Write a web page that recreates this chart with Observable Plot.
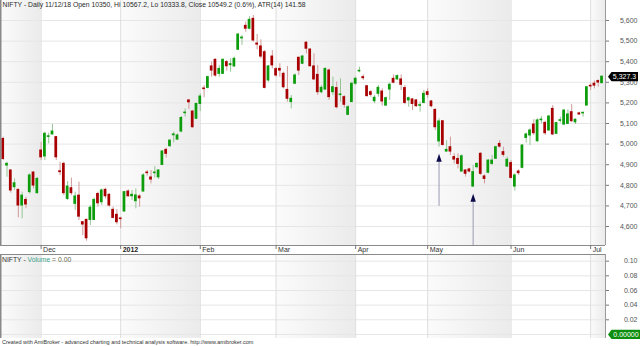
<!DOCTYPE html>
<html><head><meta charset="utf-8">
<script src="https://cdn.jsdelivr.net/npm/d3@7"></script>
<script src="https://cdn.jsdelivr.net/npm/@observablehq/plot@0.6"></script>
<style>
body{margin:0;background:#fff;}
#wrap{width:640px;height:346px;overflow:hidden;font-family:"Liberation Sans",Arial,sans-serif;}
#wrap svg{display:block;}
#footer{height:8px;font-size:5.5px;color:#333;line-height:8px;padding-left:2px;white-space:nowrap;}
</style></head><body><div id="wrap"></div>
<script>
const opens = [5025,4896,4872,4791,4778,4702,4729,4767,4862,4762,
 4969,4940,5035,5047,5034,4868,4904,4734,4786,4710,
 4750,4621,4632,4632,4632,4758,4718,4778,4754,4681,
 4657,4639,4673,4770,4747,4723,4746,4770,4862,4838,
 4859,4839,4899,4972,4990,5043,5022,5061,5150,5212,
 5158,5123,5195,5270,5273,5377,5409,5341,5341,5398,
 5383,5377,5458,5513,5574,5560,5608,5488,5474,5446,
 5309,5425,5364,5365,5341,5263,5204,5293,5419,5390,
 5492,5459,5377,5336,5252,5265,5357,5252,5272,5238,
 5228,5142,5204,5293,5353,5325,5281,5252,5208,5244,
 5255,5187,5265,5317,5314,5314,5272,5212,5217,5212,
 5186,5200,5252,5207,5166,5013,5111,4964,4985,4937,
 4928,4867,4872,4877,4794,4888,4953,4843,4861,4904,
 4929,5001,4961,4891,4908,4794,4867,4885,5030,5042,
 5095,5014,5116,5103,5066,5171,5050,5113,5095,5098,
 5155,5106,5149,5149,5187,5283,5293,5306,5296];
const highs = [5034,4912,4875,4831,4781,4767,4742,4856,4867,4839,
 5009,5058,5053,5095,5037,4912,4912,4818,4835,4767,
 4815,4624,4637,4702,4739,4767,4783,4786,4759,4694,
 4683,4645,4770,4778,4775,4783,4754,4856,4872,4872,
 4891,4875,4969,4980,5021,5058,5050,5134,5171,5215,
 5163,5199,5244,5284,5330,5398,5414,5382,5414,5406,
 5414,5422,5535,5527,5592,5619,5624,5532,5506,5454,
 5382,5454,5373,5390,5349,5377,5236,5341,5422,5430,
 5498,5462,5438,5382,5285,5369,5365,5325,5301,5317,
 5236,5187,5301,5325,5374,5336,5285,5260,5236,5285,
 5268,5228,5297,5336,5336,5336,5284,5228,5220,5217,
 5204,5260,5268,5212,5171,5123,5115,5017,5034,4953,
 4953,4948,4877,4883,4896,4909,4958,4851,4925,4945,
 4990,5017,4985,4937,4920,4856,4875,4998,5053,5074,
 5118,5123,5134,5111,5139,5187,5106,5131,5166,5166,
 5192,5123,5155,5155,5280,5293,5306,5312,5330];
const lows = [4920,4839,4762,4775,4642,4637,4686,4758,4783,4758,
 4920,4920,5001,5045,4920,4847,4750,4726,4750,4678,
 4629,4556,4529,4605,4629,4694,4702,4734,4694,4637,
 4608,4589,4670,4742,4726,4686,4694,4767,4844,4807,
 4835,4828,4896,4932,4985,5006,5017,5055,5131,5168,
 5077,5119,5158,5225,5268,5325,5325,5325,5338,5354,
 5349,5374,5454,5479,5543,5555,5495,5458,5414,5268,
 5301,5365,5325,5325,5268,5204,5171,5289,5333,5386,
 5438,5374,5309,5236,5244,5260,5212,5236,5171,5204,
 5174,5139,5204,5285,5346,5309,5228,5228,5196,5228,
 5184,5184,5212,5293,5309,5260,5191,5179,5163,5179,
 5155,5195,5223,5176,5066,4985,4990,4961,4945,4904,
 4880,4864,4840,4861,4791,4880,4848,4807,4856,4896,
 4925,4980,4937,4888,4831,4772,4848,4880,5005,4993,
 5042,5009,5098,5042,5063,5042,5047,5102,5090,5095,
 5106,5095,5139,5131,5187,5260,5268,5276,5293];
const closes = [4928,4904,4775,4810,4702,4750,4707,4848,4799,4831,
 4936,5050,5038,5061,4936,4864,4762,4794,4762,4746,
 4648,4610,4543,4691,4729,4713,4775,4747,4702,4642,
 4621,4636,4767,4747,4754,4751,4737,4848,4859,4828,
 4862,4872,4964,4953,5017,5047,5042,5127,5153,5203,
 5082,5195,5231,5267,5325,5357,5333,5365,5409,5378,
 5388,5414,5532,5517,5560,5603,5503,5483,5425,5273,
 5377,5382,5333,5357,5276,5220,5220,5333,5357,5425,
 5463,5378,5314,5252,5273,5365,5228,5276,5179,5241,
 5191,5179,5293,5317,5356,5320,5233,5239,5225,5273,
 5207,5223,5288,5298,5330,5288,5200,5223,5195,5184,
 5189,5244,5239,5184,5082,5110,4996,4972,4964,4925,
 4904,4941,4856,4867,4864,4904,4856,4831,4920,4920,
 4985,4988,4948,4924,4836,4848,4859,4993,5047,5066,
 5053,5115,5119,5053,5134,5047,5102,5116,5163,5144,
 5111,5118,5144,5152,5276,5280,5284,5299,5327.3];
const volumes = closes.map(() => 0);
const monthStarts = [10, 31, 52, 72, 93, 112, 134, 155];
const monthLabels = ["Dec", "2012", "Feb", "Mar", "Apr", "May", "Jun", "Jul"];
const priceTicks = [4600, 4700, 4800, 4900, 5000, 5100, 5200, 5300, 5400, 5500, 5600];
const volumeTicks = [0, 0.02, 0.04, 0.06, 0.08, 0.10];
const signalIdx = [115, 124];
const signalTail = [4698, 4508];
const headerText = "NIFTY - Daily 11/12/18 Open 10350, Hi 10567.2, Lo 10333.8, Close 10549.2 (0.6%), ATR(14) 141.58";
const footerText = "Created with AmiBroker - advanced charting and technical analysis software. http://www.amibroker.com";

const xMin = -0.712, xMax = 158.92;
const priceDomain = [4508, 5697];
const volDomain = [-0.0055, 0.1091];
const FONT = "'Liberation Sans', Arial, sans-serif";

const candles = opens.map((o, i) => ({i, o, h: highs[i], l: lows[i], c: closes[i], up: closes[i] >= o}));
const ups = candles.filter(d => d.up), downs = candles.filter(d => !d.up);
const edges = [xMin, ...monthStarts, xMax];
const bands = [];
for (let k = 0; k < edges.length - 1; k += 2) bands.push({x1: edges[k], x2: edges[k + 1]});
const signals = signalIdx.map((i, k) => ({i, low: lows[i], tail: signalTail[k]}));
const lastClose = closes[closes.length - 1];

const upArrow = {draw(ctx) { ctx.moveTo(0, -4); ctx.lineTo(2.7, 4); ctx.lineTo(-2.7, 4); ctx.closePath(); }};
const makeTag = len => ({draw(ctx) { ctx.moveTo(2.5, 0); ctx.lineTo(6, -4.6); ctx.lineTo(len, -4.6); ctx.lineTo(len, 4.6); ctx.lineTo(6, 4.6); ctx.closePath(); }});

function addGrad(svg, id) {
  const g = d3.select(svg).insert("defs", ":first-child").append("linearGradient")
    .attr("id", id).attr("x1", 0).attr("x2", 1).attr("y1", 0).attr("y2", 0);
  g.append("stop").attr("offset", 0).attr("stop-color", "#fbfbfb");
  g.append("stop").attr("offset", 1).attr("stop-color", "#ebebeb");
}

const baseStyle = {fontFamily: FONT, fontSize: "7px", background: "white", overflow: "visible"};

const main = Plot.plot({
  width: 640, height: 254,
  marginLeft: 0, marginRight: 35, marginTop: 0, marginBottom: 9,
  style: baseStyle,
  x: {type: "linear", domain: [xMin, xMax], axis: null},
  y: {domain: priceDomain, axis: null},
  marks: [
    Plot.rect(bands, {x1: "x1", x2: "x2", y1: priceDomain[0], y2: priceDomain[1], fill: "url(#bandGradMain)"}),
    Plot.ruleY(priceTicks, {stroke: "#e6e6e6"}),
    Plot.ruleX(monthStarts, {stroke: "#dedede"}),
    Plot.ruleX(ups, {x: "i", y1: "l", y2: "h", stroke: "#96c496"}),
    Plot.ruleX(downs, {x: "i", y1: "l", y2: "h", stroke: "#d09a9a"}),
    Plot.rect(ups, {x1: d => d.i - 0.36, x2: d => d.i + 0.36, y1: "o", y2: "c", fill: "#0c9c0c", insetTop: -0.5, insetBottom: -0.5}),
    Plot.rect(downs, {x1: d => d.i - 0.36, x2: d => d.i + 0.36, y1: "o", y2: "c", fill: "#a80000", insetTop: -0.5, insetBottom: -0.5}),
    Plot.ruleX(signals, {x: "i", y1: "low", y2: "tail", stroke: "#9a9ab4", insetTop: 14}),
    Plot.dot(signals, {x: "i", y: "low", dy: 10.5, symbol: upArrow, fill: "#0b0b4a", stroke: "none", r: 3}),
    Plot.ruleX([xMin], {stroke: "#8a8a8a", strokeWidth: 2}),
    Plot.ruleX([xMax], {stroke: "#9a9a9a"}),
    Plot.ruleY([priceDomain[0]], {stroke: "#8a8a8a"}),
    Plot.ruleX(monthStarts, {y1: priceDomain[0], y2: priceDomain[0], insetBottom: -4, stroke: "#777"}),
    Plot.text(monthStarts.filter((d, k) => k !== 1), {x: d => d, text: d => monthLabels[monthStarts.indexOf(d)], frameAnchor: "bottom", lineAnchor: "top", textAnchor: "start", dx: 2, dy: 1.5, fill: "#333", fontSize: 7}),
    Plot.text([monthStarts[1]], {x: d => d, text: () => monthLabels[1], frameAnchor: "bottom", lineAnchor: "top", textAnchor: "start", dx: 2, dy: 1.5, fill: "#222", fontSize: 7, fontWeight: "bold"}),
    Plot.axisY(priceTicks, {anchor: "right", tickSize: 3, tickPadding: 29, textAnchor: "end", tickFormat: d3.format(","), fill: "#555", stroke: "#777", fontSize: 7}),
    Plot.dot([lastClose], {x: xMax, y: d => d, symbol: makeTag(32.5), fill: "#000", stroke: "none", r: 3}),
    Plot.text([lastClose], {x: xMax, y: d => d, text: d => d3.format(",.1f")(d), dx: 19, textAnchor: "middle", fill: "white", fontSize: 7}),
    Plot.text([headerText], {frameAnchor: "top-left", text: d => d, dx: 2, dy: 2, lineAnchor: "top", textAnchor: "start", fill: "#2a2a2a", fontSize: 6.8})
  ]
});
addGrad(main, "bandGradMain");

const vol = Plot.plot({
  width: 640, height: 84,
  marginLeft: 0, marginRight: 35, marginTop: 0, marginBottom: 0,
  style: baseStyle,
  x: {type: "linear", domain: [xMin, xMax], axis: null},
  y: {domain: volDomain, axis: null},
  marks: [
    Plot.rect(bands, {x1: "x1", x2: "x2", y1: volDomain[0], y2: volDomain[1], fill: "url(#bandGradVol)"}),
    Plot.ruleY(volumeTicks, {stroke: "#e6e6e6"}),
    Plot.ruleX(monthStarts, {stroke: "#dedede"}),
    Plot.rect(candles, {x1: d => d.i - 0.36, x2: d => d.i + 0.36, y1: 0, y2: d => volumes[d.i], fill: "#4a6ea8"}),
    Plot.ruleX([xMin], {stroke: "#8a8a8a", strokeWidth: 2}),
    Plot.ruleX([xMax], {stroke: "#9a9a9a"}),
    Plot.ruleY([volDomain[1]], {stroke: "#8a8a8a"}),
    Plot.axisY(volumeTicks.filter(v => v > 0), {anchor: "right", tickSize: 3, tickPadding: 29, textAnchor: "end", tickFormat: d3.format(".2f"), fill: "#555", stroke: "#777", fontSize: 7}),
    Plot.dot([0], {x: xMax, y: d => d, symbol: makeTag(35), fill: "#0e8e0e", stroke: "none", r: 3}),
    Plot.text([0], {x: xMax, y: d => d, text: d => d3.format(".5f")(d), dx: 20.5, textAnchor: "middle", fill: "white", fontSize: 7})
  ]
});
addGrad(vol, "bandGradVol");
const vt = d3.select(vol).append("text").attr("x", 2).attr("y", 8)
  .attr("text-anchor", "start").style("text-anchor", "start")
  .style("font-size", "6.8px").style("font-family", FONT);
vt.append("tspan").attr("fill", "#333").text("NIFTY - ");
vt.append("tspan").attr("fill", "#3fa58c").text("Volume");
vt.append("tspan").attr("fill", "#6a6a50").text(" = 0.00");

const wrap = document.getElementById("wrap");
wrap.appendChild(main);
wrap.appendChild(vol);
const foot = document.createElement("div");
foot.id = "footer";
foot.textContent = footerText;
wrap.appendChild(foot);
</script></body></html>
